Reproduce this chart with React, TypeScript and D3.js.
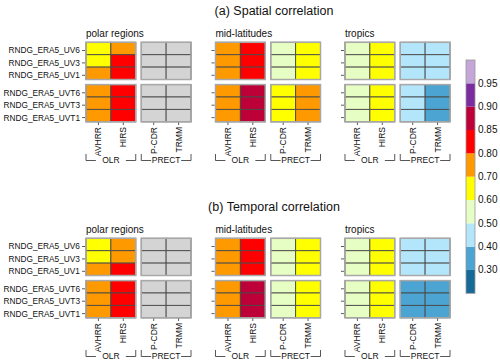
import React, { useEffect, useRef } from "react";
import * as d3 from "d3";

const regions = ["polar regions", "mid-latitudes", "tropics"];
const runs = ["RNDG_ERA5_UV6", "RNDG_ERA5_UV3", "RNDG_ERA5_UV1", "RNDG_ERA5_UVT6", "RNDG_ERA5_UVT3", "RNDG_ERA5_UVT1"];
const runGroupOf = ["UV", "UV", "UV", "UVT", "UVT", "UVT"];
const runGroups = ["UV", "UVT"];
const obs = ["AVHRR", "HIRS", "P-CDR", "TRMM"];
const obsGroupOf = ["OLR", "OLR", "PRECT", "PRECT"];
const obsGroups = ["OLR", "PRECT"];

// rows = runs, columns = obs, NaN = no data
const spatialPolar = [
  [0.65, 0.75, NaN, NaN],
  [0.66, 0.82, NaN, NaN],
  [0.73, 0.83, NaN, NaN],
  [0.75, 0.83, NaN, NaN],
  [0.76, 0.84, NaN, NaN],
  [0.76, 0.84, NaN, NaN],
];
const spatialMidlat = [
  [0.77, 0.83, 0.56, 0.66],
  [0.77, 0.83, 0.56, 0.66],
  [0.78, 0.84, 0.57, 0.67],
  [0.78, 0.87, 0.67, 0.72],
  [0.78, 0.87, 0.67, 0.72],
  [0.79, 0.88, 0.68, 0.73],
];
const spatialTropics = [
  [0.55, 0.64, 0.45, 0.44],
  [0.55, 0.64, 0.45, 0.44],
  [0.56, 0.65, 0.45, 0.44],
  [0.57, 0.66, 0.42, 0.38],
  [0.57, 0.66, 0.42, 0.38],
  [0.57, 0.66, 0.42, 0.37],
];
const temporalPolar = [
  [0.64, 0.74, NaN, NaN],
  [0.65, 0.76, NaN, NaN],
  [0.72, 0.81, NaN, NaN],
  [0.74, 0.82, NaN, NaN],
  [0.75, 0.83, NaN, NaN],
  [0.75, 0.83, NaN, NaN],
];
const temporalMidlat = [
  [0.75, 0.82, 0.55, 0.63],
  [0.75, 0.82, 0.55, 0.63],
  [0.76, 0.83, 0.56, 0.64],
  [0.77, 0.86, 0.57, 0.65],
  [0.77, 0.86, 0.57, 0.65],
  [0.77, 0.86, 0.57, 0.65],
];
const temporalTropics = [
  [0.53, 0.63, 0.44, 0.43],
  [0.53, 0.63, 0.44, 0.43],
  [0.54, 0.64, 0.44, 0.43],
  [0.56, 0.66, 0.38, 0.37],
  [0.56, 0.66, 0.38, 0.37],
  [0.56, 0.66, 0.38, 0.37],
];

const levels = [0.3, 0.4, 0.5, 0.6, 0.7, 0.8, 0.85, 0.9, 0.95];
const colors = ["#166a98", "#4ca4d3", "#b4e6fb", "#e6fdc3", "#ffff00", "#ff9900", "#ff0000", "#be0038", "#7b2c9f", "#c4a6d8"];

const panels = [
  { title: "(a) Spatial correlation", data: [spatialPolar, spatialMidlat, spatialTropics] },
  { title: "(b) Temporal correlation", data: [temporalPolar, temporalMidlat, temporalTropics] },
];

const FONT = "'Liberation Sans', Arial, Helvetica, sans-serif";

export default function App() {
  const ref = useRef<SVGSVGElement>(null);

  useEffect(() => {
    const svg = d3.select(ref.current);
    svg.selectAll("*").remove();

    const color = d3.scaleThreshold<number, string>().domain(levels).range(colors);

    const xRegion = d3.scaleBand().domain(regions).range([86, 450]).paddingInner(0.189);
    const xGroup = d3.scaleBand().domain(obsGroups).range([0, xRegion.bandwidth()]).paddingInner(0.1);
    const xCol = d3.scaleBand<number>().domain([0, 1]).range([0, xGroup.bandwidth()]);
    const yGroup = d3.scaleBand().domain(runGroups).range([42.3, 121.8]).paddingInner(0.12);
    const yRow = d3.scaleBand<number>().domain([0, 1, 2]).range([0, yGroup.bandwidth()]);

    const colX = (j: number, r: string) => xRegion(r)! + xGroup(obsGroupOf[j])! + xCol(obs.filter((_, k) => obsGroupOf[k] === obsGroupOf[j]).indexOf(obs[j]))!;
    const rowY = (i: number) => yGroup(runGroupOf[i])! + yRow(runs.filter((_, k) => runGroupOf[k] === runGroupOf[i]).indexOf(runs[i]))!;

    const panelOffset = 196;

    panels.forEach((p, pi) => {
      const g = svg.append("g").attr("transform", `translate(0, ${pi * panelOffset})`);

      g.append("text")
        .attr("x", 274)
        .attr("y", 14.5)
        .attr("text-anchor", "middle")
        .attr("font-size", "12.5px")
        .attr("fill", "#111")
        .text(p.title);

      regions.forEach((r, ri) => {
        const x0 = xRegion(r)!;
        const vals = p.data[ri];

        g.append("text")
          .attr("x", x0)
          .attr("y", 36.5)
          .attr("font-size", "10px")
          .attr("fill", "#111")
          .text(r);

        // cells
        runs.forEach((_, i) => {
          obs.forEach((_, j) => {
            const v = vals[i][j];
            g.append("rect")
              .attr("x", colX(j, r))
              .attr("y", rowY(i))
              .attr("width", xCol.bandwidth())
              .attr("height", yRow.bandwidth())
              .attr("fill", isNaN(v) ? "#d4d4d4" : color(v))
              .attr("stroke", "#4a4a4a")
              .attr("stroke-width", 0.9);
          });
        });

        // block outlines
        runGroups.forEach(rg => {
          obsGroups.forEach(og => {
            g.append("rect")
              .attr("x", x0 + xGroup(og)!)
              .attr("y", yGroup(rg)!)
              .attr("width", xGroup.bandwidth())
              .attr("height", yGroup.bandwidth())
              .attr("fill", "none")
              .attr("stroke", "#a8a8a8")
              .attr("stroke-width", 1.5);
          });
        });

        // left ticks
        runs.forEach((run, i) => {
          const yc = rowY(i) + yRow.bandwidth() / 2 + 2;
          g.append("line")
            .attr("x1", x0 - 4).attr("x2", x0 - 1)
            .attr("y1", yc).attr("y2", yc)
            .attr("stroke", "#333").attr("stroke-width", 0.8);
          if (ri === 0) {
            g.append("text")
              .attr("x", x0 - 6)
              .attr("y", yc)
              .attr("dy", "0.35em")
              .attr("text-anchor", "end")
              .attr("font-size", "8.3px")
              .attr("fill", "#111")
              .text(run);
          }
        });

        // bottom ticks and column labels
        obs.forEach((o, j) => {
          const xc = colX(j, r) + xCol.bandwidth() / 2;
          g.append("line")
            .attr("x1", xc).attr("x2", xc)
            .attr("y1", 122.5).attr("y2", 125)
            .attr("stroke", "#333").attr("stroke-width", 0.8);
          g.append("text")
            .attr("transform", `translate(${xc}, 127) rotate(-90)`)
            .attr("dy", "0.35em")
            .attr("text-anchor", "end")
            .attr("font-size", "8.5px")
            .attr("fill", "#111")
            .text(o);
        });

        // group brackets
        obsGroups.forEach(og => {
          const bx0 = x0 + xGroup(og)!;
          const bx1 = bx0 + xGroup.bandwidth();
          const bc = (bx0 + bx1) / 2;
          const path = d3.path();
          path.moveTo(bx0, 154);
          path.lineTo(bx0, 160.5);
          path.lineTo(bc - 15, 160.5);
          path.moveTo(bc + 15, 160.5);
          path.lineTo(bx1, 160.5);
          path.lineTo(bx1, 154);
          g.append("path")
            .attr("d", path.toString())
            .attr("fill", "none")
            .attr("stroke", "#444")
            .attr("stroke-width", 0.9);
          g.append("text")
            .attr("x", bc)
            .attr("y", 160.5)
            .attr("dy", "0.35em")
            .attr("text-anchor", "middle")
            .attr("font-size", "8.5px")
            .attr("fill", "#111")
            .text(og);
        });
      });
    });

    // colour bar
    const yBar = d3.scaleLinear().domain([0, colors.length]).range([293.3, 60]);
    const bar = svg.append("g");
    colors.forEach((c, i) => {
      bar.append("rect")
        .attr("x", 466)
        .attr("y", yBar(i + 1))
        .attr("width", 9)
        .attr("height", yBar(i) - yBar(i + 1))
        .attr("fill", c);
    });
    bar.append("rect")
      .attr("x", 466)
      .attr("y", yBar(colors.length))
      .attr("width", 9)
      .attr("height", yBar(0) - yBar(colors.length))
      .attr("fill", "none")
      .attr("stroke", "#999")
      .attr("stroke-width", 0.8);
    levels.forEach((l, i) => {
      bar.append("text")
        .attr("x", 478)
        .attr("y", yBar(i + 1))
        .attr("dy", "0.35em")
        .attr("font-size", "10px")
        .attr("fill", "#111")
        .text(l.toFixed(2));
    });
  }, []);

  return (
    <svg
      ref={ref}
      width={500}
      height={364}
      style={{ position: "absolute", left: 0, top: 0, background: "#fff", fontFamily: FONT }}
    />
  );
}
